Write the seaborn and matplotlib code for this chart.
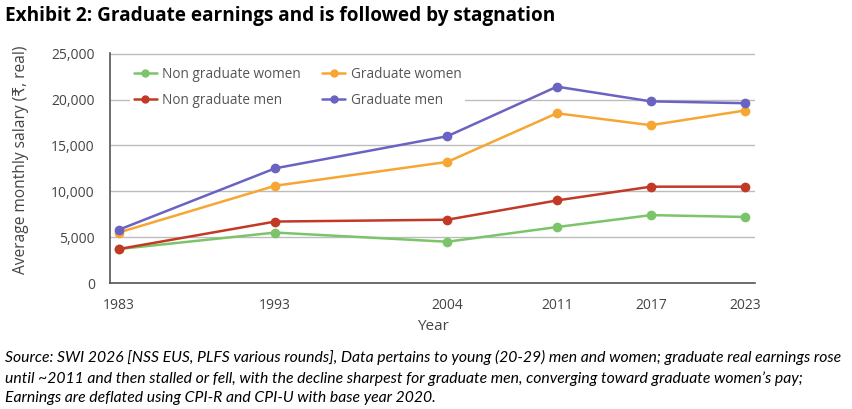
import numpy as np
import pandas as pd
import matplotlib
matplotlib.use("Agg")
import matplotlib.pyplot as plt
import seaborn as sns
from matplotlib.legend_handler import HandlerLine2D

years = [1983, 1993, 2004, 2011, 2017, 2023]
non_grad_women = [3700, 5500, 4500, 6100, 7400, 7200]
grad_women = [5500, 10600, 13200, 18500, 17200, 18800]
non_grad_men = [3700, 6700, 6900, 9000, 10500, 10500]
grad_men = [5800, 12500, 16000, 21400, 19800, 19600]

groups = ["Non graduate women", "Non graduate men", "Graduate women", "Graduate men"]
series = [non_grad_women, non_grad_men, grad_women, grad_men]
colors = {"Non graduate women": "#7cc46a", "Graduate women": "#f6a733",
          "Non graduate men": "#c23a26", "Graduate men": "#6a63c2"}

y_ticks = [0, 5000, 10000, 15000, 20000, 25000]
y_tick_labels = ["0", "5,000", "10,000", "15,000", "20,000", "25,000"]

title = "Exhibit 2: Graduate earnings and is followed by stagnation"
caption = ("Source: SWI 2026 [NSS EUS, PLFS various rounds], Data pertains to young (20-29) men and women; graduate real earnings rose\n"
           "until ~2011 and then stalled or fell, with the decline sharpest for graduate men, converging toward graduate women\u2019s pay;\n"
           "Earnings are deflated using CPI-R and CPI-U with base year 2020.")

rows = []
for g, vals in zip(groups, series):
    for yr, v in zip(years, vals):
        rows.append({"Year": yr, "Salary": v, "Group": g})
df = pd.DataFrame(rows)

sns.set_theme(style="white")
plt.rcParams["font.family"] = ["Open Sans", "DejaVu Sans"]

fig = plt.figure(figsize=(8.53, 4.09), dpi=100)
ax = fig.add_axes([0.129, 0.308, 0.756, 0.562])
ax.set_axisbelow(True)

sns.lineplot(data=df, x="Year", y="Salary", hue="Group", hue_order=groups,
             palette=colors, marker="o", markersize=7, markeredgewidth=0,
             linewidth=1.8, ax=ax, legend=False, zorder=4)

ax.set_xlim(1982.45, 2023.65)
ax.set_ylim(0, 25050)
ax.set_xticks(years)
ax.set_xticklabels([str(y) for y in years])
ax.set_yticks(y_ticks)
ax.set_yticklabels(y_tick_labels)
ax.yaxis.grid(True, color="#bdbdbd", linewidth=1.0, zorder=0)
ax.xaxis.grid(False)
for s in ["top", "right"]:
    ax.spines[s].set_visible(False)
for s in ["left", "bottom"]:
    ax.spines[s].set_color("#555555")
    ax.spines[s].set_linewidth(1.2)
ax.tick_params(axis="y", direction="out", length=7, width=1, color="#555555",
               labelsize=10, labelcolor="#444444", pad=4)
ax.tick_params(axis="x", direction="out", length=5, width=1, color="#999999",
               labelsize=10, labelcolor="#444444", pad=6)
ax.set_xlabel("Year", fontsize=11, color="#444444", labelpad=4)
ax.set_ylabel("Average monthly salary (\u20b9, real)", fontsize=11.2, color="#444444")
ax.yaxis.set_label_coords(-0.126, 0.535)


class EndMarker(HandlerLine2D):
    def get_xdata(self, legend, xdescent, ydescent, width, height, fontsize):
        xd = np.linspace(-xdescent, -xdescent + width, 2)
        return xd, [-xdescent + width]


handles = []
for g in groups:
    h, = ax.plot([], [], color=colors[g], marker="o", markersize=6,
                 markeredgewidth=0, linewidth=1.8, label=g)
    handles.append(h)
leg = ax.legend(handles=handles, labels=groups, ncol=2, loc="upper left",
                bbox_to_anchor=(0.145, 0.862), bbox_transform=fig.transFigure,
                frameon=True, facecolor="white", edgecolor="none", framealpha=1,
                fontsize=9.8, handlelength=1.7, handletextpad=0.4,
                columnspacing=1.55, labelspacing=0.85, borderpad=0.25,
                handler_map={h: EndMarker(numpoints=1) for h in handles})
for t in leg.get_texts():
    t.set_color("#555555")
leg.set_zorder(2)

fig.text(0.006, 0.962, title, fontsize=13.7, fontweight="bold", color="#000000",
         family=["Open Sans", "DejaVu Sans"], va="center", ha="left")
fig.text(0.006, 0.145, caption, fontsize=11.3, style="italic", color="#000000",
         family=["Lato", "DejaVu Sans"], va="top", ha="left", linespacing=1.52)

fig.savefig("out.png", dpi=100)
